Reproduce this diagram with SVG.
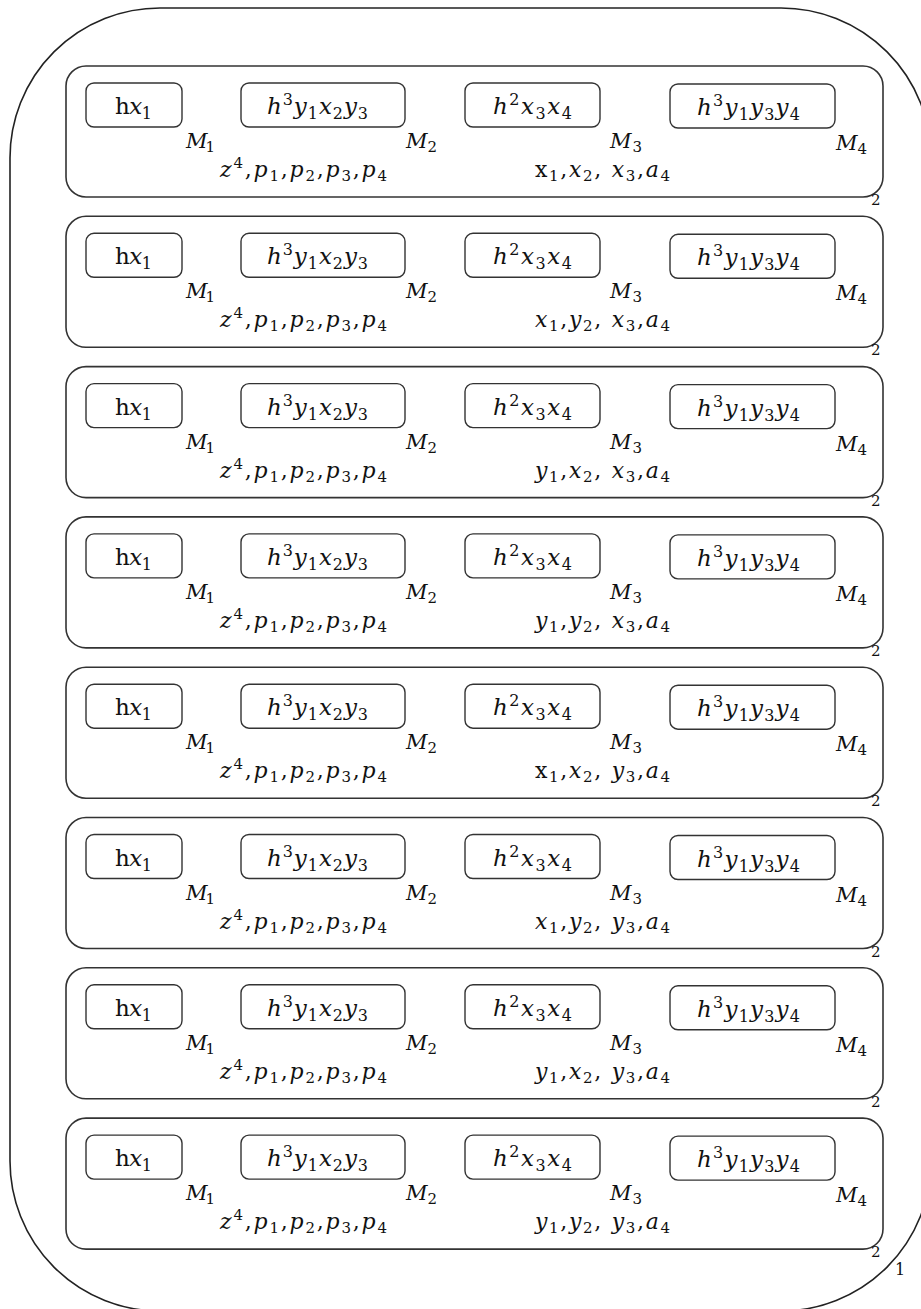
<svg xmlns="http://www.w3.org/2000/svg" width="921" height="1309" viewBox="0 0 921 1309">
<style>
.outer{fill:none;stroke:#222;stroke-width:1.6}
.row{fill:none;stroke:#333;stroke-width:1.6}
.box{fill:none;stroke:#333;stroke-width:1.4}
.t{font-family:"DejaVu Serif","Liberation Serif",serif;font-size:23px;fill:#111}
.l{font-family:"DejaVu Serif","Liberation Serif",serif;font-size:22px;fill:#111}
.m{font-family:"DejaVu Serif","Liberation Serif",serif;font-size:21px;fill:#111}
.i{font-style:italic}
.s{font-size:16px;font-style:normal}
.s2{font-size:15px;font-style:normal}
.k{font-family:"DejaVu Serif","Liberation Serif",serif;font-size:15px;fill:#111}
</style>
<g id="outer">
<rect class="outer" x="10" y="8" width="921" height="1303" rx="150" ry="150"/>
<text class="k" x="895" y="1275" style="font-size:16px">1</text>
</g>
<g id="connectors"/>

<g id="row1" transform="translate(0,0)">
<rect class="row" x="66" y="66" width="817" height="131" rx="20"/>
<g id="row1-n1"><rect class="box" x="86" y="83" width="96" height="44" rx="8"/><text class="t" x="115" y="114" textLength="37"><tspan>h</tspan><tspan class="i">x</tspan><tspan class="s" dy="5">1</tspan></text></g>
<g id="row1-n2"><rect class="box" x="241" y="83" width="164" height="44" rx="8"/><text class="t" x="267" y="114" textLength="101"><tspan class="i">h</tspan><tspan class="s" dy="-9">3</tspan><tspan class="i" dy="9">y</tspan><tspan class="s" dy="5">1</tspan><tspan class="i" dy="-5">x</tspan><tspan class="s" dy="5">2</tspan><tspan class="i" dy="-5">y</tspan><tspan class="s" dy="5">3</tspan></text></g>
<g id="row1-n3"><rect class="box" x="465" y="83" width="135" height="44" rx="8"/><text class="t" x="493" y="114" textLength="79"><tspan class="i">h</tspan><tspan class="s" dy="-9">2</tspan><tspan class="i" dy="9">x</tspan><tspan class="s" dy="5">3</tspan><tspan class="i" dy="-5">x</tspan><tspan class="s" dy="5">4</tspan></text></g>
<g id="row1-n4"><rect class="box" x="670" y="84" width="165" height="44" rx="8"/><text class="t" x="697" y="115" textLength="103"><tspan class="i">h</tspan><tspan class="s" dy="-9">3</tspan><tspan class="i" dy="9">y</tspan><tspan class="s" dy="5">1</tspan><tspan class="i" dy="-5">y</tspan><tspan class="s" dy="5">3</tspan><tspan class="i" dy="-5">y</tspan><tspan class="s" dy="5">4</tspan></text></g>
<text class="m" x="186" y="148" textLength="29"><tspan class="i">M</tspan><tspan class="s2" dy="4">1</tspan></text>
<text class="m" x="406" y="148" textLength="31"><tspan class="i">M</tspan><tspan class="s2" dy="4">2</tspan></text>
<text class="m" x="610" y="148" textLength="32"><tspan class="i">M</tspan><tspan class="s2" dy="4">3</tspan></text>
<text class="m" x="836" y="150" textLength="31"><tspan class="i">M</tspan><tspan class="s2" dy="4">4</tspan></text>
<text class="l" x="220" y="177" textLength="167"><tspan class="i">z</tspan><tspan class="s2" dy="-9">4</tspan><tspan dy="9">,</tspan><tspan class="i">p</tspan><tspan class="s2" dy="4">1</tspan><tspan dy="-4">,</tspan><tspan class="i">p</tspan><tspan class="s2" dy="4">2</tspan><tspan dy="-4">,</tspan><tspan class="i">p</tspan><tspan class="s2" dy="4">3</tspan><tspan dy="-4">,</tspan><tspan class="i">p</tspan><tspan class="s2" dy="4">4</tspan></text>
<text class="l" x="535" y="177" textLength="135"><tspan>x</tspan><tspan class="s2" dy="4">1</tspan><tspan dy="-4">,</tspan><tspan class="i">x</tspan><tspan class="s2" dy="4">2</tspan><tspan dy="-4">, </tspan><tspan class="i">x</tspan><tspan class="s2" dy="4">3</tspan><tspan dy="-4">,</tspan><tspan class="i">a</tspan><tspan class="s2" dy="4">4</tspan></text>
<text class="k" x="871" y="205">2</text>
</g>

<g id="row2" transform="translate(0,150.3)">
<rect class="row" x="66" y="66" width="817" height="131" rx="20"/>
<g id="row2-n1"><rect class="box" x="86" y="83" width="96" height="44" rx="8"/><text class="t" x="115" y="114" textLength="37"><tspan>h</tspan><tspan class="i">x</tspan><tspan class="s" dy="5">1</tspan></text></g>
<g id="row2-n2"><rect class="box" x="241" y="83" width="164" height="44" rx="8"/><text class="t" x="267" y="114" textLength="101"><tspan class="i">h</tspan><tspan class="s" dy="-9">3</tspan><tspan class="i" dy="9">y</tspan><tspan class="s" dy="5">1</tspan><tspan class="i" dy="-5">x</tspan><tspan class="s" dy="5">2</tspan><tspan class="i" dy="-5">y</tspan><tspan class="s" dy="5">3</tspan></text></g>
<g id="row2-n3"><rect class="box" x="465" y="83" width="135" height="44" rx="8"/><text class="t" x="493" y="114" textLength="79"><tspan class="i">h</tspan><tspan class="s" dy="-9">2</tspan><tspan class="i" dy="9">x</tspan><tspan class="s" dy="5">3</tspan><tspan class="i" dy="-5">x</tspan><tspan class="s" dy="5">4</tspan></text></g>
<g id="row2-n4"><rect class="box" x="670" y="84" width="165" height="44" rx="8"/><text class="t" x="697" y="115" textLength="103"><tspan class="i">h</tspan><tspan class="s" dy="-9">3</tspan><tspan class="i" dy="9">y</tspan><tspan class="s" dy="5">1</tspan><tspan class="i" dy="-5">y</tspan><tspan class="s" dy="5">3</tspan><tspan class="i" dy="-5">y</tspan><tspan class="s" dy="5">4</tspan></text></g>
<text class="m" x="186" y="148" textLength="29"><tspan class="i">M</tspan><tspan class="s2" dy="4">1</tspan></text>
<text class="m" x="406" y="148" textLength="31"><tspan class="i">M</tspan><tspan class="s2" dy="4">2</tspan></text>
<text class="m" x="610" y="148" textLength="32"><tspan class="i">M</tspan><tspan class="s2" dy="4">3</tspan></text>
<text class="m" x="836" y="150" textLength="31"><tspan class="i">M</tspan><tspan class="s2" dy="4">4</tspan></text>
<text class="l" x="220" y="177" textLength="167"><tspan class="i">z</tspan><tspan class="s2" dy="-9">4</tspan><tspan dy="9">,</tspan><tspan class="i">p</tspan><tspan class="s2" dy="4">1</tspan><tspan dy="-4">,</tspan><tspan class="i">p</tspan><tspan class="s2" dy="4">2</tspan><tspan dy="-4">,</tspan><tspan class="i">p</tspan><tspan class="s2" dy="4">3</tspan><tspan dy="-4">,</tspan><tspan class="i">p</tspan><tspan class="s2" dy="4">4</tspan></text>
<text class="l" x="535" y="177" textLength="135"><tspan class="i">x</tspan><tspan class="s2" dy="4">1</tspan><tspan dy="-4">,</tspan><tspan class="i">y</tspan><tspan class="s2" dy="4">2</tspan><tspan dy="-4">, </tspan><tspan class="i">x</tspan><tspan class="s2" dy="4">3</tspan><tspan dy="-4">,</tspan><tspan class="i">a</tspan><tspan class="s2" dy="4">4</tspan></text>
<text class="k" x="871" y="205">2</text>
</g>

<g id="row3" transform="translate(0,300.6)">
<rect class="row" x="66" y="66" width="817" height="131" rx="20"/>
<g id="row3-n1"><rect class="box" x="86" y="83" width="96" height="44" rx="8"/><text class="t" x="115" y="114" textLength="37"><tspan>h</tspan><tspan class="i">x</tspan><tspan class="s" dy="5">1</tspan></text></g>
<g id="row3-n2"><rect class="box" x="241" y="83" width="164" height="44" rx="8"/><text class="t" x="267" y="114" textLength="101"><tspan class="i">h</tspan><tspan class="s" dy="-9">3</tspan><tspan class="i" dy="9">y</tspan><tspan class="s" dy="5">1</tspan><tspan class="i" dy="-5">x</tspan><tspan class="s" dy="5">2</tspan><tspan class="i" dy="-5">y</tspan><tspan class="s" dy="5">3</tspan></text></g>
<g id="row3-n3"><rect class="box" x="465" y="83" width="135" height="44" rx="8"/><text class="t" x="493" y="114" textLength="79"><tspan class="i">h</tspan><tspan class="s" dy="-9">2</tspan><tspan class="i" dy="9">x</tspan><tspan class="s" dy="5">3</tspan><tspan class="i" dy="-5">x</tspan><tspan class="s" dy="5">4</tspan></text></g>
<g id="row3-n4"><rect class="box" x="670" y="84" width="165" height="44" rx="8"/><text class="t" x="697" y="115" textLength="103"><tspan class="i">h</tspan><tspan class="s" dy="-9">3</tspan><tspan class="i" dy="9">y</tspan><tspan class="s" dy="5">1</tspan><tspan class="i" dy="-5">y</tspan><tspan class="s" dy="5">3</tspan><tspan class="i" dy="-5">y</tspan><tspan class="s" dy="5">4</tspan></text></g>
<text class="m" x="186" y="148" textLength="29"><tspan class="i">M</tspan><tspan class="s2" dy="4">1</tspan></text>
<text class="m" x="406" y="148" textLength="31"><tspan class="i">M</tspan><tspan class="s2" dy="4">2</tspan></text>
<text class="m" x="610" y="148" textLength="32"><tspan class="i">M</tspan><tspan class="s2" dy="4">3</tspan></text>
<text class="m" x="836" y="150" textLength="31"><tspan class="i">M</tspan><tspan class="s2" dy="4">4</tspan></text>
<text class="l" x="220" y="177" textLength="167"><tspan class="i">z</tspan><tspan class="s2" dy="-9">4</tspan><tspan dy="9">,</tspan><tspan class="i">p</tspan><tspan class="s2" dy="4">1</tspan><tspan dy="-4">,</tspan><tspan class="i">p</tspan><tspan class="s2" dy="4">2</tspan><tspan dy="-4">,</tspan><tspan class="i">p</tspan><tspan class="s2" dy="4">3</tspan><tspan dy="-4">,</tspan><tspan class="i">p</tspan><tspan class="s2" dy="4">4</tspan></text>
<text class="l" x="535" y="177" textLength="135"><tspan class="i">y</tspan><tspan class="s2" dy="4">1</tspan><tspan dy="-4">,</tspan><tspan class="i">x</tspan><tspan class="s2" dy="4">2</tspan><tspan dy="-4">, </tspan><tspan class="i">x</tspan><tspan class="s2" dy="4">3</tspan><tspan dy="-4">,</tspan><tspan class="i">a</tspan><tspan class="s2" dy="4">4</tspan></text>
<text class="k" x="871" y="205">2</text>
</g>

<g id="row4" transform="translate(0,450.9)">
<rect class="row" x="66" y="66" width="817" height="131" rx="20"/>
<g id="row4-n1"><rect class="box" x="86" y="83" width="96" height="44" rx="8"/><text class="t" x="115" y="114" textLength="37"><tspan>h</tspan><tspan class="i">x</tspan><tspan class="s" dy="5">1</tspan></text></g>
<g id="row4-n2"><rect class="box" x="241" y="83" width="164" height="44" rx="8"/><text class="t" x="267" y="114" textLength="101"><tspan class="i">h</tspan><tspan class="s" dy="-9">3</tspan><tspan class="i" dy="9">y</tspan><tspan class="s" dy="5">1</tspan><tspan class="i" dy="-5">x</tspan><tspan class="s" dy="5">2</tspan><tspan class="i" dy="-5">y</tspan><tspan class="s" dy="5">3</tspan></text></g>
<g id="row4-n3"><rect class="box" x="465" y="83" width="135" height="44" rx="8"/><text class="t" x="493" y="114" textLength="79"><tspan class="i">h</tspan><tspan class="s" dy="-9">2</tspan><tspan class="i" dy="9">x</tspan><tspan class="s" dy="5">3</tspan><tspan class="i" dy="-5">x</tspan><tspan class="s" dy="5">4</tspan></text></g>
<g id="row4-n4"><rect class="box" x="670" y="84" width="165" height="44" rx="8"/><text class="t" x="697" y="115" textLength="103"><tspan class="i">h</tspan><tspan class="s" dy="-9">3</tspan><tspan class="i" dy="9">y</tspan><tspan class="s" dy="5">1</tspan><tspan class="i" dy="-5">y</tspan><tspan class="s" dy="5">3</tspan><tspan class="i" dy="-5">y</tspan><tspan class="s" dy="5">4</tspan></text></g>
<text class="m" x="186" y="148" textLength="29"><tspan class="i">M</tspan><tspan class="s2" dy="4">1</tspan></text>
<text class="m" x="406" y="148" textLength="31"><tspan class="i">M</tspan><tspan class="s2" dy="4">2</tspan></text>
<text class="m" x="610" y="148" textLength="32"><tspan class="i">M</tspan><tspan class="s2" dy="4">3</tspan></text>
<text class="m" x="836" y="150" textLength="31"><tspan class="i">M</tspan><tspan class="s2" dy="4">4</tspan></text>
<text class="l" x="220" y="177" textLength="167"><tspan class="i">z</tspan><tspan class="s2" dy="-9">4</tspan><tspan dy="9">,</tspan><tspan class="i">p</tspan><tspan class="s2" dy="4">1</tspan><tspan dy="-4">,</tspan><tspan class="i">p</tspan><tspan class="s2" dy="4">2</tspan><tspan dy="-4">,</tspan><tspan class="i">p</tspan><tspan class="s2" dy="4">3</tspan><tspan dy="-4">,</tspan><tspan class="i">p</tspan><tspan class="s2" dy="4">4</tspan></text>
<text class="l" x="535" y="177" textLength="135"><tspan class="i">y</tspan><tspan class="s2" dy="4">1</tspan><tspan dy="-4">,</tspan><tspan class="i">y</tspan><tspan class="s2" dy="4">2</tspan><tspan dy="-4">, </tspan><tspan class="i">x</tspan><tspan class="s2" dy="4">3</tspan><tspan dy="-4">,</tspan><tspan class="i">a</tspan><tspan class="s2" dy="4">4</tspan></text>
<text class="k" x="871" y="205">2</text>
</g>

<g id="row5" transform="translate(0,601.2)">
<rect class="row" x="66" y="66" width="817" height="131" rx="20"/>
<g id="row5-n1"><rect class="box" x="86" y="83" width="96" height="44" rx="8"/><text class="t" x="115" y="114" textLength="37"><tspan>h</tspan><tspan class="i">x</tspan><tspan class="s" dy="5">1</tspan></text></g>
<g id="row5-n2"><rect class="box" x="241" y="83" width="164" height="44" rx="8"/><text class="t" x="267" y="114" textLength="101"><tspan class="i">h</tspan><tspan class="s" dy="-9">3</tspan><tspan class="i" dy="9">y</tspan><tspan class="s" dy="5">1</tspan><tspan class="i" dy="-5">x</tspan><tspan class="s" dy="5">2</tspan><tspan class="i" dy="-5">y</tspan><tspan class="s" dy="5">3</tspan></text></g>
<g id="row5-n3"><rect class="box" x="465" y="83" width="135" height="44" rx="8"/><text class="t" x="493" y="114" textLength="79"><tspan class="i">h</tspan><tspan class="s" dy="-9">2</tspan><tspan class="i" dy="9">x</tspan><tspan class="s" dy="5">3</tspan><tspan class="i" dy="-5">x</tspan><tspan class="s" dy="5">4</tspan></text></g>
<g id="row5-n4"><rect class="box" x="670" y="84" width="165" height="44" rx="8"/><text class="t" x="697" y="115" textLength="103"><tspan class="i">h</tspan><tspan class="s" dy="-9">3</tspan><tspan class="i" dy="9">y</tspan><tspan class="s" dy="5">1</tspan><tspan class="i" dy="-5">y</tspan><tspan class="s" dy="5">3</tspan><tspan class="i" dy="-5">y</tspan><tspan class="s" dy="5">4</tspan></text></g>
<text class="m" x="186" y="148" textLength="29"><tspan class="i">M</tspan><tspan class="s2" dy="4">1</tspan></text>
<text class="m" x="406" y="148" textLength="31"><tspan class="i">M</tspan><tspan class="s2" dy="4">2</tspan></text>
<text class="m" x="610" y="148" textLength="32"><tspan class="i">M</tspan><tspan class="s2" dy="4">3</tspan></text>
<text class="m" x="836" y="150" textLength="31"><tspan class="i">M</tspan><tspan class="s2" dy="4">4</tspan></text>
<text class="l" x="220" y="177" textLength="167"><tspan class="i">z</tspan><tspan class="s2" dy="-9">4</tspan><tspan dy="9">,</tspan><tspan class="i">p</tspan><tspan class="s2" dy="4">1</tspan><tspan dy="-4">,</tspan><tspan class="i">p</tspan><tspan class="s2" dy="4">2</tspan><tspan dy="-4">,</tspan><tspan class="i">p</tspan><tspan class="s2" dy="4">3</tspan><tspan dy="-4">,</tspan><tspan class="i">p</tspan><tspan class="s2" dy="4">4</tspan></text>
<text class="l" x="535" y="177" textLength="135"><tspan>x</tspan><tspan class="s2" dy="4">1</tspan><tspan dy="-4">,</tspan><tspan class="i">x</tspan><tspan class="s2" dy="4">2</tspan><tspan dy="-4">, </tspan><tspan class="i">y</tspan><tspan class="s2" dy="4">3</tspan><tspan dy="-4">,</tspan><tspan class="i">a</tspan><tspan class="s2" dy="4">4</tspan></text>
<text class="k" x="871" y="205">2</text>
</g>

<g id="row6" transform="translate(0,751.5)">
<rect class="row" x="66" y="66" width="817" height="131" rx="20"/>
<g id="row6-n1"><rect class="box" x="86" y="83" width="96" height="44" rx="8"/><text class="t" x="115" y="114" textLength="37"><tspan>h</tspan><tspan class="i">x</tspan><tspan class="s" dy="5">1</tspan></text></g>
<g id="row6-n2"><rect class="box" x="241" y="83" width="164" height="44" rx="8"/><text class="t" x="267" y="114" textLength="101"><tspan class="i">h</tspan><tspan class="s" dy="-9">3</tspan><tspan class="i" dy="9">y</tspan><tspan class="s" dy="5">1</tspan><tspan class="i" dy="-5">x</tspan><tspan class="s" dy="5">2</tspan><tspan class="i" dy="-5">y</tspan><tspan class="s" dy="5">3</tspan></text></g>
<g id="row6-n3"><rect class="box" x="465" y="83" width="135" height="44" rx="8"/><text class="t" x="493" y="114" textLength="79"><tspan class="i">h</tspan><tspan class="s" dy="-9">2</tspan><tspan class="i" dy="9">x</tspan><tspan class="s" dy="5">3</tspan><tspan class="i" dy="-5">x</tspan><tspan class="s" dy="5">4</tspan></text></g>
<g id="row6-n4"><rect class="box" x="670" y="84" width="165" height="44" rx="8"/><text class="t" x="697" y="115" textLength="103"><tspan class="i">h</tspan><tspan class="s" dy="-9">3</tspan><tspan class="i" dy="9">y</tspan><tspan class="s" dy="5">1</tspan><tspan class="i" dy="-5">y</tspan><tspan class="s" dy="5">3</tspan><tspan class="i" dy="-5">y</tspan><tspan class="s" dy="5">4</tspan></text></g>
<text class="m" x="186" y="148" textLength="29"><tspan class="i">M</tspan><tspan class="s2" dy="4">1</tspan></text>
<text class="m" x="406" y="148" textLength="31"><tspan class="i">M</tspan><tspan class="s2" dy="4">2</tspan></text>
<text class="m" x="610" y="148" textLength="32"><tspan class="i">M</tspan><tspan class="s2" dy="4">3</tspan></text>
<text class="m" x="836" y="150" textLength="31"><tspan class="i">M</tspan><tspan class="s2" dy="4">4</tspan></text>
<text class="l" x="220" y="177" textLength="167"><tspan class="i">z</tspan><tspan class="s2" dy="-9">4</tspan><tspan dy="9">,</tspan><tspan class="i">p</tspan><tspan class="s2" dy="4">1</tspan><tspan dy="-4">,</tspan><tspan class="i">p</tspan><tspan class="s2" dy="4">2</tspan><tspan dy="-4">,</tspan><tspan class="i">p</tspan><tspan class="s2" dy="4">3</tspan><tspan dy="-4">,</tspan><tspan class="i">p</tspan><tspan class="s2" dy="4">4</tspan></text>
<text class="l" x="535" y="177" textLength="135"><tspan class="i">x</tspan><tspan class="s2" dy="4">1</tspan><tspan dy="-4">,</tspan><tspan class="i">y</tspan><tspan class="s2" dy="4">2</tspan><tspan dy="-4">, </tspan><tspan class="i">y</tspan><tspan class="s2" dy="4">3</tspan><tspan dy="-4">,</tspan><tspan class="i">a</tspan><tspan class="s2" dy="4">4</tspan></text>
<text class="k" x="871" y="205">2</text>
</g>

<g id="row7" transform="translate(0,901.8)">
<rect class="row" x="66" y="66" width="817" height="131" rx="20"/>
<g id="row7-n1"><rect class="box" x="86" y="83" width="96" height="44" rx="8"/><text class="t" x="115" y="114" textLength="37"><tspan>h</tspan><tspan class="i">x</tspan><tspan class="s" dy="5">1</tspan></text></g>
<g id="row7-n2"><rect class="box" x="241" y="83" width="164" height="44" rx="8"/><text class="t" x="267" y="114" textLength="101"><tspan class="i">h</tspan><tspan class="s" dy="-9">3</tspan><tspan class="i" dy="9">y</tspan><tspan class="s" dy="5">1</tspan><tspan class="i" dy="-5">x</tspan><tspan class="s" dy="5">2</tspan><tspan class="i" dy="-5">y</tspan><tspan class="s" dy="5">3</tspan></text></g>
<g id="row7-n3"><rect class="box" x="465" y="83" width="135" height="44" rx="8"/><text class="t" x="493" y="114" textLength="79"><tspan class="i">h</tspan><tspan class="s" dy="-9">2</tspan><tspan class="i" dy="9">x</tspan><tspan class="s" dy="5">3</tspan><tspan class="i" dy="-5">x</tspan><tspan class="s" dy="5">4</tspan></text></g>
<g id="row7-n4"><rect class="box" x="670" y="84" width="165" height="44" rx="8"/><text class="t" x="697" y="115" textLength="103"><tspan class="i">h</tspan><tspan class="s" dy="-9">3</tspan><tspan class="i" dy="9">y</tspan><tspan class="s" dy="5">1</tspan><tspan class="i" dy="-5">y</tspan><tspan class="s" dy="5">3</tspan><tspan class="i" dy="-5">y</tspan><tspan class="s" dy="5">4</tspan></text></g>
<text class="m" x="186" y="148" textLength="29"><tspan class="i">M</tspan><tspan class="s2" dy="4">1</tspan></text>
<text class="m" x="406" y="148" textLength="31"><tspan class="i">M</tspan><tspan class="s2" dy="4">2</tspan></text>
<text class="m" x="610" y="148" textLength="32"><tspan class="i">M</tspan><tspan class="s2" dy="4">3</tspan></text>
<text class="m" x="836" y="150" textLength="31"><tspan class="i">M</tspan><tspan class="s2" dy="4">4</tspan></text>
<text class="l" x="220" y="177" textLength="167"><tspan class="i">z</tspan><tspan class="s2" dy="-9">4</tspan><tspan dy="9">,</tspan><tspan class="i">p</tspan><tspan class="s2" dy="4">1</tspan><tspan dy="-4">,</tspan><tspan class="i">p</tspan><tspan class="s2" dy="4">2</tspan><tspan dy="-4">,</tspan><tspan class="i">p</tspan><tspan class="s2" dy="4">3</tspan><tspan dy="-4">,</tspan><tspan class="i">p</tspan><tspan class="s2" dy="4">4</tspan></text>
<text class="l" x="535" y="177" textLength="135"><tspan class="i">y</tspan><tspan class="s2" dy="4">1</tspan><tspan dy="-4">,</tspan><tspan class="i">x</tspan><tspan class="s2" dy="4">2</tspan><tspan dy="-4">, </tspan><tspan class="i">y</tspan><tspan class="s2" dy="4">3</tspan><tspan dy="-4">,</tspan><tspan class="i">a</tspan><tspan class="s2" dy="4">4</tspan></text>
<text class="k" x="871" y="205">2</text>
</g>

<g id="row8" transform="translate(0,1052.1)">
<rect class="row" x="66" y="66" width="817" height="131" rx="20"/>
<g id="row8-n1"><rect class="box" x="86" y="83" width="96" height="44" rx="8"/><text class="t" x="115" y="114" textLength="37"><tspan>h</tspan><tspan class="i">x</tspan><tspan class="s" dy="5">1</tspan></text></g>
<g id="row8-n2"><rect class="box" x="241" y="83" width="164" height="44" rx="8"/><text class="t" x="267" y="114" textLength="101"><tspan class="i">h</tspan><tspan class="s" dy="-9">3</tspan><tspan class="i" dy="9">y</tspan><tspan class="s" dy="5">1</tspan><tspan class="i" dy="-5">x</tspan><tspan class="s" dy="5">2</tspan><tspan class="i" dy="-5">y</tspan><tspan class="s" dy="5">3</tspan></text></g>
<g id="row8-n3"><rect class="box" x="465" y="83" width="135" height="44" rx="8"/><text class="t" x="493" y="114" textLength="79"><tspan class="i">h</tspan><tspan class="s" dy="-9">2</tspan><tspan class="i" dy="9">x</tspan><tspan class="s" dy="5">3</tspan><tspan class="i" dy="-5">x</tspan><tspan class="s" dy="5">4</tspan></text></g>
<g id="row8-n4"><rect class="box" x="670" y="84" width="165" height="44" rx="8"/><text class="t" x="697" y="115" textLength="103"><tspan class="i">h</tspan><tspan class="s" dy="-9">3</tspan><tspan class="i" dy="9">y</tspan><tspan class="s" dy="5">1</tspan><tspan class="i" dy="-5">y</tspan><tspan class="s" dy="5">3</tspan><tspan class="i" dy="-5">y</tspan><tspan class="s" dy="5">4</tspan></text></g>
<text class="m" x="186" y="148" textLength="29"><tspan class="i">M</tspan><tspan class="s2" dy="4">1</tspan></text>
<text class="m" x="406" y="148" textLength="31"><tspan class="i">M</tspan><tspan class="s2" dy="4">2</tspan></text>
<text class="m" x="610" y="148" textLength="32"><tspan class="i">M</tspan><tspan class="s2" dy="4">3</tspan></text>
<text class="m" x="836" y="150" textLength="31"><tspan class="i">M</tspan><tspan class="s2" dy="4">4</tspan></text>
<text class="l" x="220" y="177" textLength="167"><tspan class="i">z</tspan><tspan class="s2" dy="-9">4</tspan><tspan dy="9">,</tspan><tspan class="i">p</tspan><tspan class="s2" dy="4">1</tspan><tspan dy="-4">,</tspan><tspan class="i">p</tspan><tspan class="s2" dy="4">2</tspan><tspan dy="-4">,</tspan><tspan class="i">p</tspan><tspan class="s2" dy="4">3</tspan><tspan dy="-4">,</tspan><tspan class="i">p</tspan><tspan class="s2" dy="4">4</tspan></text>
<text class="l" x="535" y="177" textLength="135"><tspan class="i">y</tspan><tspan class="s2" dy="4">1</tspan><tspan dy="-4">,</tspan><tspan class="i">y</tspan><tspan class="s2" dy="4">2</tspan><tspan dy="-4">, </tspan><tspan class="i">y</tspan><tspan class="s2" dy="4">3</tspan><tspan dy="-4">,</tspan><tspan class="i">a</tspan><tspan class="s2" dy="4">4</tspan></text>
<text class="k" x="871" y="205">2</text>
</g>
</svg>
